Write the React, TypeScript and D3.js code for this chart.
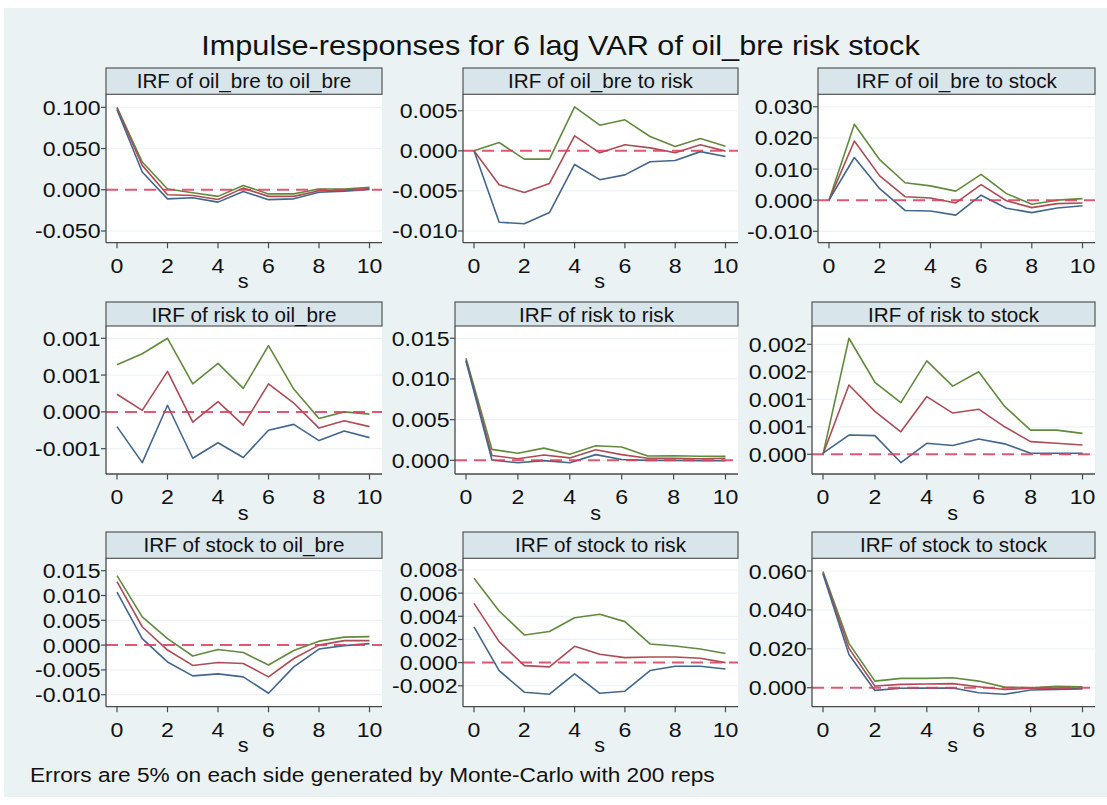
import React from "react";
import * as d3 from "d3";

// ---------------- data ----------------
const steps = [0, 1, 2, 3, 4, 5, 6, 7, 8, 9, 10];
const xTicks = [0, 2, 4, 6, 8, 10];

const panelTitles = [
  "IRF of oil_bre to oil_bre",
  "IRF of oil_bre to risk",
  "IRF of oil_bre to stock",
  "IRF of risk to oil_bre",
  "IRF of risk to risk",
  "IRF of risk to stock",
  "IRF of stock to oil_bre",
  "IRF of stock to risk",
  "IRF of stock to stock",
];

// oil_bre -> oil_bre
const oilOilUpper = [0.1, 0.0336, 0.001, -0.0036, -0.008, 0.0053, -0.005, -0.005, 0.001, 0.001, 0.003];
const oilOilIrf = [0.099, 0.0296, -0.006, -0.007, -0.0117, 0.002, -0.008, -0.008, -0.0012, -0.0004, 0.0016];
const oilOilLower = [0.097, 0.0215, -0.011, -0.0097, -0.015, -0.002, -0.012, -0.011, -0.003, -0.0016, 0.0004];

// oil_bre -> risk
const oilRiskUpper = [0, 0.00104, -0.00104, -0.00104, 0.00549, 0.0032, 0.00387, 0.00179, 0.00054, 0.00154, 0.00058];
const oilRiskIrf = [0, -0.00424, -0.0052, -0.00407, 0.00187, -0.00025, 0.00075, 0.00037, -0.00025, 0.00075, -0.00004];
const oilRiskLower = [0, -0.0089, -0.0091, -0.0077, -0.0017, -0.0036, -0.003, -0.00137, -0.0012, -0.0001, -0.0007];

// oil_bre -> stock
const oilStockUpper = [0, 0.0244, 0.013, 0.0056, 0.0046, 0.0029, 0.0083, 0.0021, -0.0013, 0, 0.0005];
const oilStockIrf = [0, 0.019, 0.0078, 0.0011, 0.0007, -0.0009, 0.005, -0.0002, -0.0024, -0.0011, -0.0009];
const oilStockLower = [0, 0.0137, 0.0037, -0.0033, -0.0035, -0.0048, 0.0016, -0.0026, -0.004, -0.0025, -0.0018];

// risk -> oil_bre
const riskOilUpper = [0.00064, 0.00079, 0.001, 0.00038, 0.00066, 0.00032, 0.0009, 0.00031, -0.00009, 0, -0.00003];
const riskOilIrf = [0.00024, 0.00002, 0.00055, -0.00014, 0.00014, -0.00018, 0.00038, 0.00012, -0.00022, -0.00012, -0.0002];
const riskOilLower = [-0.0002, -0.00069, 0.00009, -0.00063, -0.00042, -0.00062, -0.00025, -0.00017, -0.00039, -0.00026, -0.00035];

// risk -> risk
const riskRiskUpper = [0.01254, 0.00135, 0.00086, 0.0015, 0.00074, 0.0018, 0.00164, 0.00053, 0.00057, 0.0005, 0.0005];
const riskRiskIrf = [0.0123, 0.0006, 0.0002, 0.00066, 0.0003, 0.0013, 0.0007, 0.00025, 0.00025, 0.0002, 0.00025];
const riskRiskLower = [0.0122, 0.00004, -0.0003, -0.00004, -0.0003, 0.0007, 0.0001, 0, 0, -0.00004, -0.00004];

// risk -> stock
const riskStockUpper = [0, 0.00211, 0.00131, 0.00094, 0.0017, 0.00124, 0.0015, 0.00087, 0.00044, 0.00044, 0.00038];
const riskStockIrf = [0, 0.00126, 0.00078, 0.00041, 0.00105, 0.00075, 0.00082, 0.0005, 0.00023, 0.0002, 0.00017];
const riskStockLower = [0.00002, 0.00035, 0.00034, -0.00015, 0.0002, 0.00016, 0.00028, 0.00019, 0.00002, 0.00002, 0.00002];

// stock -> oil_bre
const stockOilUpper = [0.014, 0.0057, 0.0013, -0.0022, -0.0009, -0.0015, -0.004, -0.0011, 0.0008, 0.0016, 0.0017];
const stockOilIrf = [0.0128, 0.0037, -0.001, -0.0041, -0.0035, -0.0037, -0.0064, -0.0027, 0, 0.0009, 0.0009];
const stockOilLower = [0.0107, 0.0013, -0.0034, -0.0062, -0.0058, -0.0064, -0.0097, -0.0044, -0.0008, -0.0001, 0.0003];

// stock -> risk
const stockRiskUpper = [0.00728, 0.00446, 0.00239, 0.00268, 0.00388, 0.00417, 0.00354, 0.00161, 0.00144, 0.00118, 0.00078];
const stockRiskIrf = [0.00512, 0.00181, -0.00026, -0.00037, 0.00141, 0.00072, 0.00043, 0.00049, 0.00049, 0.00037, 0];
const stockRiskLower = [0.00308, -0.00069, -0.00256, -0.00273, -0.00098, -0.00265, -0.00247, -0.00069, -0.00032, -0.00032, -0.00055];

// stock -> stock
const stockStockUpper = [0.0597, 0.0228, 0.0034, 0.0048, 0.0048, 0.0051, 0.0034, 0.0003, 0, 0.0007, 0.0005];
const stockStockIrf = [0.0591, 0.0202, 0.0009, 0.0017, 0.0019, 0.0021, 0.0005, -0.0009, -0.0003, -0.0002, -0.0002];
const stockStockLower = [0.0585, 0.0171, -0.0014, -0.0003, -0.0002, -0.0002, -0.0026, -0.0034, -0.0012, -0.0009, -0.0007];

// y tick values and their labels
const yTicks1 = [0.1, 0.05, 0, -0.05];
const yLabels1 = ["0.100", "0.050", "0.000", "-0.050"];
const yTicks2 = [0.005, 0, -0.005, -0.01];
const yLabels2 = ["0.005", "0.000", "-0.005", "-0.010"];
const yTicks3 = [0.03, 0.02, 0.01, 0, -0.01];
const yLabels3 = ["0.030", "0.020", "0.010", "0.000", "-0.010"];
const yTicks4 = [0.001, 0.0005, 0, -0.0005];
const yLabels4 = ["0.001", "0.001", "0.000", "-0.001"];
const yTicks5 = [0.015, 0.01, 0.005, 0];
const yLabels5 = ["0.015", "0.010", "0.005", "0.000"];
const yTicks6 = [0.002, 0.0015, 0.001, 0.0005, 0];
const yLabels6 = ["0.002", "0.002", "0.001", "0.001", "0.000"];
const yTicks7 = [0.015, 0.01, 0.005, 0, -0.005, -0.01];
const yLabels7 = ["0.015", "0.010", "0.005", "0.000", "-0.005", "-0.010"];
const yTicks8 = [0.008, 0.006, 0.004, 0.002, 0, -0.002];
const yLabels8 = ["0.008", "0.006", "0.004", "0.002", "0.000", "-0.002"];
const yTicks9 = [0.06, 0.04, 0.02, 0];
const yLabels9 = ["0.060", "0.040", "0.020", "0.000"];

// y axis extents of each plot region
const yDomains = [
  [-0.0642, 0.1158],
  [-0.01146, 0.00705],
  [-0.01366, 0.034],
  [-0.000844, 0.001167],
  [-0.00168, 0.01651],
  [-0.000358, 0.002333],
  [-0.01242, 0.0175],
  [-0.00381, 0.00901],
  [-0.00977, 0.06653],
];

const titleText = "Impulse-responses for 6 lag VAR of oil_bre risk stock";
const noteText = "Errors are 5% on each side generated by Monte-Carlo with 200 reps";

const panels = [
  { upper: oilOilUpper, irf: oilOilIrf, lower: oilOilLower, ticks: yTicks1, labels: yLabels1 },
  { upper: oilRiskUpper, irf: oilRiskIrf, lower: oilRiskLower, ticks: yTicks2, labels: yLabels2 },
  { upper: oilStockUpper, irf: oilStockIrf, lower: oilStockLower, ticks: yTicks3, labels: yLabels3 },
  { upper: riskOilUpper, irf: riskOilIrf, lower: riskOilLower, ticks: yTicks4, labels: yLabels4 },
  { upper: riskRiskUpper, irf: riskRiskIrf, lower: riskRiskLower, ticks: yTicks5, labels: yLabels5 },
  { upper: riskStockUpper, irf: riskStockIrf, lower: riskStockLower, ticks: yTicks6, labels: yLabels6 },
  { upper: stockOilUpper, irf: stockOilIrf, lower: stockOilLower, ticks: yTicks7, labels: yLabels7 },
  { upper: stockRiskUpper, irf: stockRiskIrf, lower: stockRiskLower, ticks: yTicks8, labels: yLabels8 },
  { upper: stockStockUpper, irf: stockStockIrf, lower: stockStockLower, ticks: yTicks9, labels: yLabels9 },
];

// ---------------- layout ----------------
const W = 1107;
const H = 805;
const colRight = [382, 738, 1095];
const panelLeft = [106, 463, 818, 106, 455, 812, 106, 463, 812];
const rowStripTop = [68, 302, 532];
const rowPlotTop = [94.3, 326, 558.3];
const rowPlotBottom = [242.7, 474, 706.7];

const FONT = "'Liberation Sans', Arial, Helvetica, sans-serif";
const SX = 1.08;
const BG = "#eaf2f3";
const STRIP = "#d8e5ea";
const GRID = "#edf3f5";
const AXIS = "#4a4a4a";
const C_UP = "#628a3e";
const C_IRF = "#ad4c55";
const C_LO = "#43668c";
const C_ZERO = "#dc3c5a";

function T({ x, y, anchor = "start", size, sx = SX, fill = "#111", children }: any) {
  return (
    <text
      transform={`translate(${x},${y}) scale(${sx},1)`}
      textAnchor={anchor}
      fontSize={size}
      fontFamily={FONT}
      fill={fill}
    >
      {children}
    </text>
  );
}

function Panel({ idx }: { idx: number }) {
  const p = panels[idx];
  const row = Math.floor(idx / 3);
  const col = idx % 3;
  const left = panelLeft[idx];
  const right = colRight[col];
  const top = rowPlotTop[row];
  const bottom = rowPlotBottom[row];
  const stripTop = rowStripTop[row];

  const x = d3.scaleLinear().domain([0, 10]).range([left + 11, right - 12.5]);
  const y = d3.scaleLinear().domain(yDomains[idx]).range([bottom, top]);
  const line = d3
    .line<number>()
    .x((_, i) => x(steps[i]))
    .y((d) => y(d));

  return (
    <g>
      {/* plot region */}
      <rect x={left} y={top} width={right - left} height={bottom - top} fill="#ffffff" />
      {p.ticks.map((t, i) => (
        <line key={"g" + i} x1={left} x2={right} y1={y(t)} y2={y(t)} stroke={GRID} strokeWidth={1.2} />
      ))}
      {/* series */}
      <path d={line(p.upper) || ""} fill="none" stroke={C_UP} strokeWidth={1.6} strokeLinejoin="round" />
      <path d={line(p.irf) || ""} fill="none" stroke={C_IRF} strokeWidth={1.6} strokeLinejoin="round" />
      <path d={line(p.lower) || ""} fill="none" stroke={C_LO} strokeWidth={1.6} strokeLinejoin="round" />
      {/* zero reference line */}
      <line
        x1={left}
        x2={right}
        y1={y(0)}
        y2={y(0)}
        stroke={C_ZERO}
        strokeOpacity={0.85}
        strokeWidth={2}
        strokeDasharray="12,7"
      />
      {/* strip header */}
      <rect x={left} y={stripTop} width={right - left} height={top - stripTop} fill={STRIP} stroke="#555" strokeWidth={1.2} />
      <T x={(left + right) / 2} y={stripTop + 20.3} anchor="middle" size={19.5} sx={1.06}>
        {panelTitles[idx]}
      </T>
      {/* axes */}
      <line x1={left} x2={left} y1={top} y2={bottom} stroke={AXIS} strokeWidth={1.3} />
      <line x1={left} x2={right} y1={bottom} y2={bottom} stroke={AXIS} strokeWidth={1.3} />
      {p.ticks.map((t, i) => (
        <g key={"yt" + i}>
          <line x1={left - 5} x2={left} y1={y(t)} y2={y(t)} stroke={AXIS} strokeWidth={1.2} />
          <T x={left - 5.5} y={y(t) + 7.5} anchor="end" size={21} sx={1.1}>
            {p.labels[i]}
          </T>
        </g>
      ))}
      {xTicks.map((t) => (
        <g key={"xt" + t}>
          <line x1={x(t)} x2={x(t)} y1={bottom} y2={bottom + 5.5} stroke={AXIS} strokeWidth={1.2} />
          <T x={x(t)} y={bottom + 30} anchor="middle" size={21} sx={1.1}>
            {String(t)}
          </T>
        </g>
      ))}
      <T x={(x(0) + x(10)) / 2} y={bottom + 45.6} anchor="middle" size={20}>
        s
      </T>
    </g>
  );
}

export default function App() {
  return (
    <svg
      width={W}
      height={H}
      style={{ position: "absolute", left: 0, top: 0, display: "block" }}
    >
      <rect x={0} y={0} width={W} height={H} fill="#ffffff" />
      <rect x={4} y={8} width={W - 4} height={789} fill={BG} />
      <T x={560.5} y={55} anchor="middle" size={28} sx={1.095}>
        {titleText}
      </T>
      {panels.map((_, i) => (
        <Panel key={i} idx={i} />
      ))}
      <T x={30} y={782} size={20.5} sx={1.105}>
        {noteText}
      </T>
    </svg>
  );
}
